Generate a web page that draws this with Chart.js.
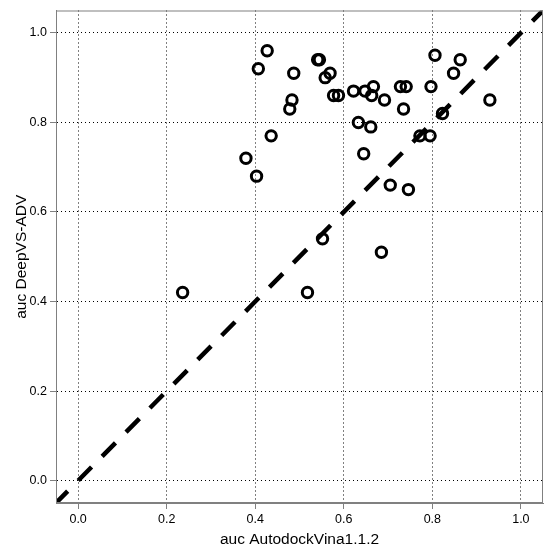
<!DOCTYPE html>
<html>
<head>
<meta charset="utf-8">
<script src="https://cdn.jsdelivr.net/npm/chart.js@4.4.1/dist/chart.umd.min.js"></script>
<style>
  html, body { margin: 0; padding: 0; background: #fff; }
  #wrap { width: 553px; height: 552px; }
</style>
</head>
<body>
<div id="wrap"><canvas id="chart" width="553" height="552"></canvas></div>
<script>
// auc values
const vinaAuc = [0.236, 0.379, 0.403, 0.407, 0.427, 0.436, 0.478, 0.483, 0.487, 0.518,
  0.541, 0.545, 0.552, 0.558, 0.569, 0.577, 0.588, 0.622, 0.633, 0.645,
  0.648, 0.661, 0.663, 0.667, 0.685, 0.692, 0.705, 0.728, 0.735, 0.741,
  0.746, 0.772, 0.795, 0.797, 0.806, 0.823, 0.848, 0.863, 0.930];
const deepvsAuc = [0.42, 0.72, 0.68, 0.92, 0.96, 0.77, 0.83, 0.85, 0.91, 0.42,
  0.94, 0.94, 0.54, 0.90, 0.91, 0.86, 0.86, 0.87, 0.80, 0.73,
  0.87, 0.79, 0.86, 0.88, 0.51, 0.85, 0.66, 0.88, 0.83, 0.88,
  0.65, 0.77, 0.77, 0.88, 0.95, 0.82, 0.91, 0.94, 0.85];
const tickVals = [0, 0.2, 0.4, 0.6, 0.8, 1.0];
const axisMin = -0.05, axisMax = 1.05;

const points = vinaAuc.map((v, i) => ({ x: v, y: deepvsAuc[i] }));
const diag = [{ x: axisMin, y: axisMin }, { x: axisMax, y: axisMax }];

// box round the plot area
const frame = {
  id: "frame",
  afterDraw(chart) {
    const a = chart.chartArea, ctx = chart.ctx;
    ctx.save();
    ctx.strokeStyle = "#808080";
    ctx.lineWidth = 1;
    ctx.strokeRect(a.left + 0.5, a.top + 0.5, a.right - a.left - 1, a.bottom - a.top - 1);
    ctx.restore();
  }
};

const tickFont = { family: "'Liberation Sans', Arial, sans-serif", size: 12.5 };
const titleFont = { family: "'Liberation Sans', Arial, sans-serif", size: 15.5 };

function axis(title, isX) {
  return {
    type: "linear",
    min: axisMin,
    max: axisMax,
    afterBuildTicks: (s) => { s.ticks = tickVals.map((v) => ({ value: v })); },
    afterFit: (s) => { if (isX) s.height = 49; else s.width = 56; },
    ticks: {
      color: "#000",
      font: tickFont,
      padding: 3,
      maxRotation: 0,
      autoSkip: false,
      callback: (v) => Number(v).toFixed(1)
    },
    grid: {
      color: "#000",
      lineWidth: 1,
      tickLength: 6,
      tickColor: "#808080",
      tickWidth: 1,
      tickBorderDash: []
    },
    border: { display: true, color: "#808080", width: 1, dash: [1, 3] },
    title: {
      display: true,
      text: title,
      color: "#000",
      font: titleFont,
      padding: isX ? { top: 0, bottom: 3 } : { top: 12, bottom: 0 }
    }
  };
}

new Chart(document.getElementById("chart"), {
  type: "scatter",
  data: {
    datasets: [
      {
        type: "line",
        data: diag,
        borderColor: "#000",
        borderWidth: 4.5,
        borderDash: [19, 15],
        borderDashOffset: 2.4,
        borderCapStyle: "butt",
        pointRadius: 0,
        fill: false
      },
      {
        data: points,
        pointStyle: "circle",
        pointRadius: 5.2,
        pointHoverRadius: 5.2,
        borderWidth: 3,
        borderColor: "#000",
        backgroundColor: "rgba(0,0,0,0)"
      }
    ]
  },
  options: {
    responsive: false,
    animation: false,
    devicePixelRatio: 1,
    layout: { padding: { top: 7, right: 10, left: 0, bottom: 0 } },
    plugins: { legend: { display: false }, tooltip: { enabled: false } },
    scales: {
      x: axis("auc AutodockVina1.1.2", true),
      y: axis("auc DeepVS-ADV", false)
    }
  },
  plugins: [frame]
});
</script>
</body>
</html>
